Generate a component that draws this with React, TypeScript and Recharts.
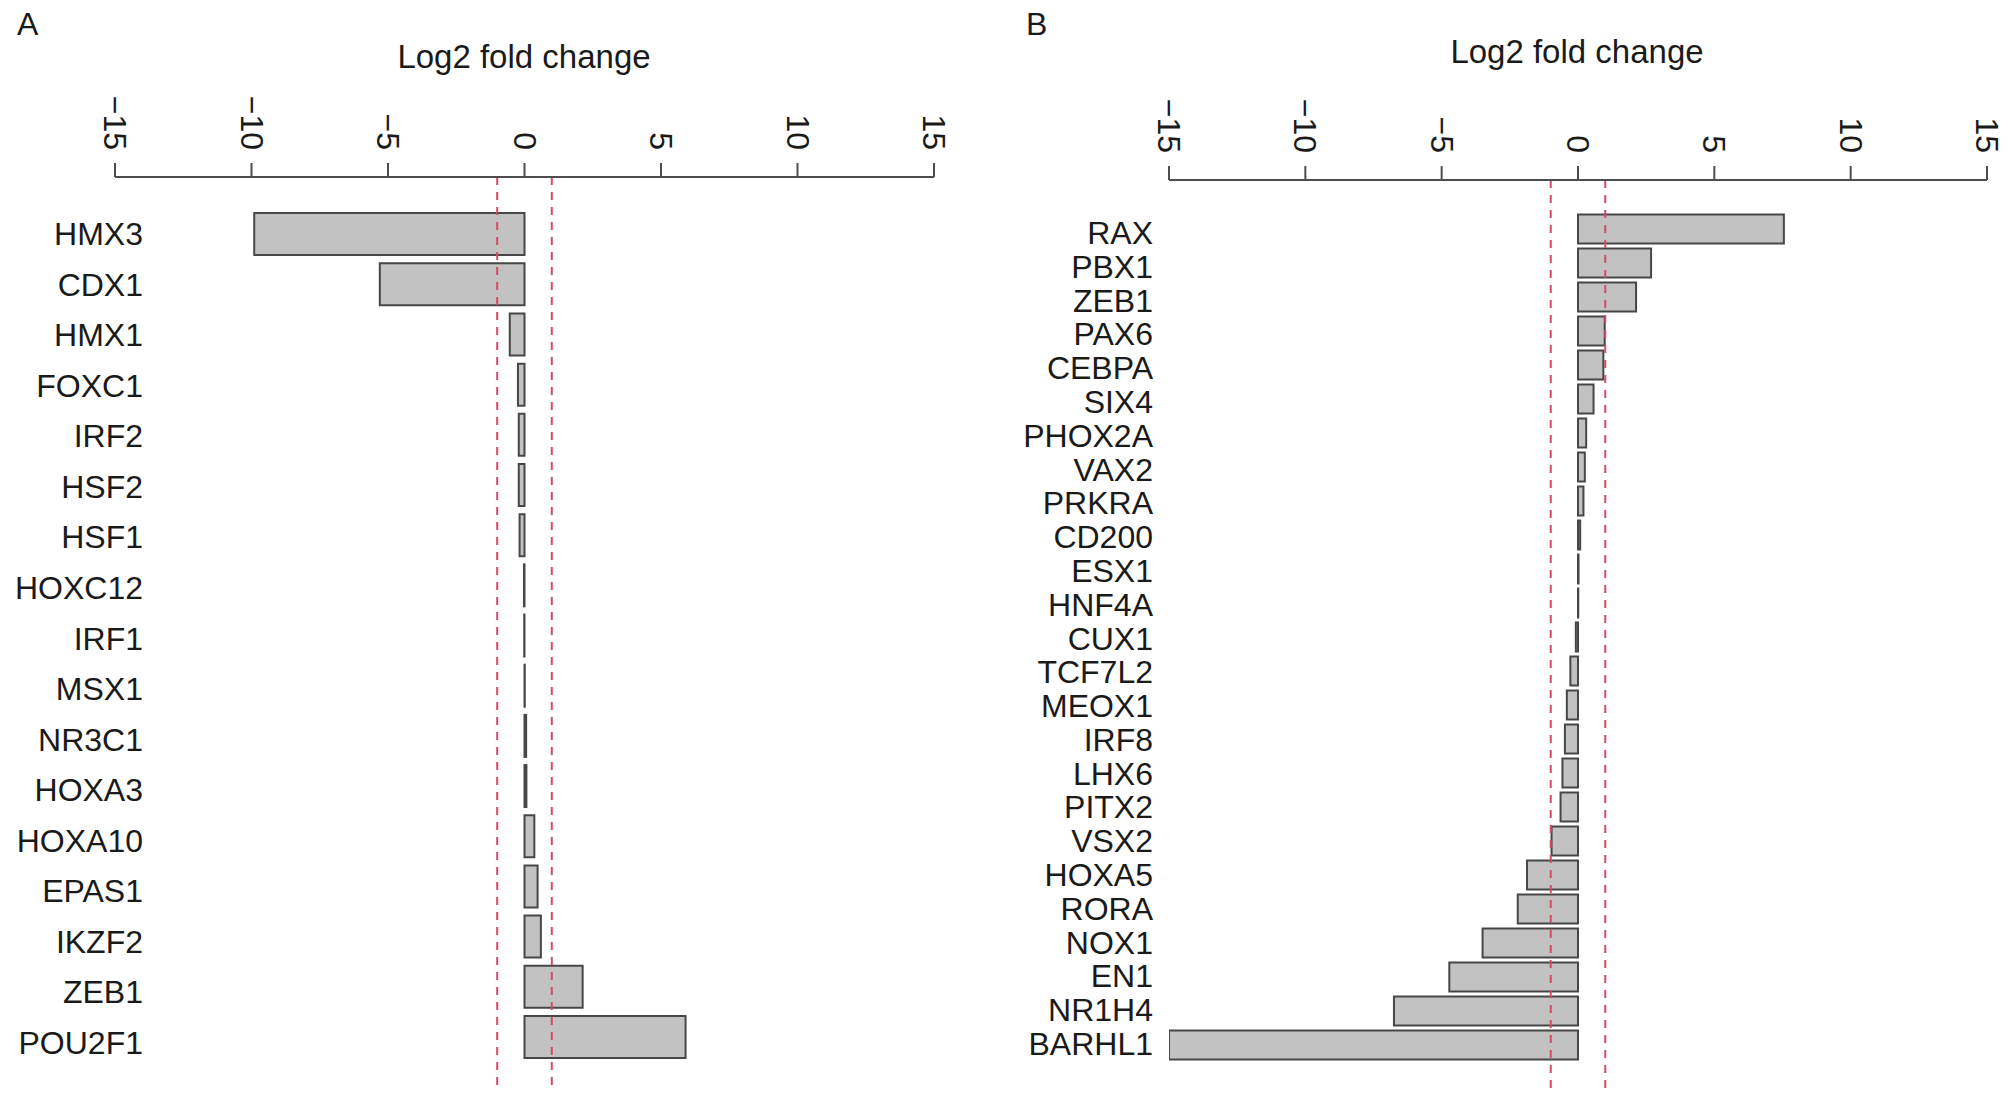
import React from "react";
import { BarChart, Bar, XAxis, YAxis, ReferenceLine } from "recharts";

const genesA = ["HMX3", "CDX1", "HMX1", "FOXC1", "IRF2", "HSF2", "HSF1", "HOXC12", "IRF1", "MSX1", "NR3C1", "HOXA3", "HOXA10", "EPAS1", "IKZF2", "ZEB1", "POU2F1"];
const valuesA = [-9.9, -5.3, -0.54, -0.24, -0.21, -0.21, -0.18, -0.02, -0.01, 0.01, 0.06, 0.07, 0.36, 0.48, 0.6, 2.13, 5.9];

const genesB = ["RAX", "PBX1", "ZEB1", "PAX6", "CEBPA", "SIX4", "PHOX2A", "VAX2", "PRKRA", "CD200", "ESX1", "HNF4A", "CUX1", "TCF7L2", "MEOX1", "IRF8", "LHX6", "PITX2", "VSX2", "HOXA5", "RORA", "NOX1", "EN1", "NR1H4", "BARHL1"];
const valuesB = [7.55, 2.68, 2.13, 0.98, 0.93, 0.57, 0.3, 0.25, 0.2, 0.08, 0.02, 0.01, -0.08, -0.28, -0.41, -0.48, -0.57, -0.64, -0.97, -1.87, -2.21, -3.5, -4.72, -6.75, -15.0];

const xTicks = [-15, -10, -5, 0, 5, 10, 15];
const thresholds = [-1, 1];
const axisTitle = "Log2 fold change";
const panelLetters = ["A", "B"];

const FONT = "'Liberation Sans', Arial, Helvetica, sans-serif";
const TEXT = "#1a1a1a";
const AXIS = "#4d4d4d";

const dataA = genesA.map((g, i) => ({ gene: g, value: valuesA[i] }));
const dataB = genesB.map((g, i) => ({ gene: g, value: valuesB[i] }));

const fmt = (v: number) => (v < 0 ? "\u2212" + Math.abs(v) : String(v));

const XTick = (props: any) => {
  const { x, y, payload } = props;
  return (
    <text
      x={x}
      y={y}
      transform={`rotate(90 ${x} ${y})`}
      textAnchor="end"
      dominantBaseline="central"
      fontFamily={FONT}
      fontSize={32}
      fill={TEXT}
    >
      {fmt(payload.value)}
    </text>
  );
};

// labels sit on an evenly spaced column that drifts slightly from the bar centres
const makeYTick = (dx: number, shiftStart: number, shiftEnd: number, n: number) => (props: any) => {
  const { x, y, payload, index } = props;
  const i = typeof index === "number" ? index : 0;
  const shift = shiftStart + ((shiftEnd - shiftStart) * i) / Math.max(1, n - 1);
  return (
    <text
      x={x + dx}
      y={y + shift}
      textAnchor="end"
      dominantBaseline="central"
      fontFamily={FONT}
      fontSize={32}
      fill={TEXT}
    >
      {payload.value}
    </text>
  );
};

type PanelProps = {
  data: { gene: string; value: number }[];
  width: number;
  axisTop: number;
  yAxisWidth: number;
  rightMargin: number;
  bottomMargin: number;
  padTop: number;
  padBottom: number;
  gap: string;
  labelDx: number;
  shiftStart: number;
  shiftEnd: number;
};

const Panel = (p: PanelProps) => (
  <BarChart
    width={p.width}
    height={1115}
    data={p.data}
    layout="vertical"
    margin={{ top: 0, left: 0, right: p.rightMargin, bottom: p.bottomMargin }}
    barCategoryGap={p.gap}
  >
    <XAxis
      type="number"
      orientation="top"
      domain={[-15, 15]}
      ticks={xTicks}
      allowDataOverflow
      height={p.axisTop}
      tickSize={14}
      tickMargin={13}
      axisLine={{ stroke: AXIS, strokeWidth: 2 }}
      tickLine={{ stroke: AXIS, strokeWidth: 2 }}
      tick={<XTick />}
      interval={0}
    />
    <YAxis
      type="category"
      dataKey="gene"
      width={p.yAxisWidth}
      axisLine={false}
      tickLine={false}
      tickSize={0}
      tickMargin={0}
      interval={0}
      padding={{ top: p.padTop, bottom: p.padBottom }}
      tick={makeYTick(p.labelDx, p.shiftStart, p.shiftEnd, p.data.length)}
    />
    <Bar
      dataKey="value"
      fill="#c2c2c2"
      stroke="#474747"
      strokeWidth={2}
      isAnimationActive={false}
    />
    {thresholds.map((t) => (
      <ReferenceLine
        key={t}
        x={t}
        stroke="#d64a63"
        strokeWidth={2}
        strokeDasharray="8 7"
      />
    ))}
  </BarChart>
);

export default function App() {
  return (
    <div
      style={{
        position: "absolute",
        left: 0,
        top: 0,
        width: 2010,
        height: 1115,
        background: "#ffffff",
        overflow: "hidden",
      }}
    >
      <div style={{ position: "absolute", left: 0, top: 0 }}>
        <Panel
          data={dataA}
          width={1000}
          axisTop={177}
          yAxisWidth={115}
          rightMargin={66}
          bottomMargin={24}
          padTop={32}
          padBottom={29}
          gap="8.2%"
          labelDx={28}
          shiftStart={0}
          shiftEnd={6}
        />
      </div>
      <div style={{ position: "absolute", left: 1000, top: 0 }}>
        <Panel
          data={dataB}
          width={1010}
          axisTop={180}
          yAxisWidth={169}
          rightMargin={23}
          bottomMargin={23}
          padTop={32}
          padBottom={30}
          gap="7.4%"
          labelDx={-16}
          shiftStart={4}
          shiftEnd={-1}
        />
      </div>
      <svg
        width={2010}
        height={1115}
        style={{ position: "absolute", left: 0, top: 0, pointerEvents: "none" }}
      >
        <text x={17} y={35} fontFamily={FONT} fontSize={32} fill={TEXT}>
          {panelLetters[0]}
        </text>
        <text x={1026} y={35} fontFamily={FONT} fontSize={32} fill={TEXT}>
          {panelLetters[1]}
        </text>
        <text x={524} y={68} textAnchor="middle" fontFamily={FONT} fontSize={33} fill={TEXT}>
          {axisTitle}
        </text>
        <text x={1577} y={63} textAnchor="middle" fontFamily={FONT} fontSize={33} fill={TEXT}>
          {axisTitle}
        </text>
      </svg>
    </div>
  );
}
